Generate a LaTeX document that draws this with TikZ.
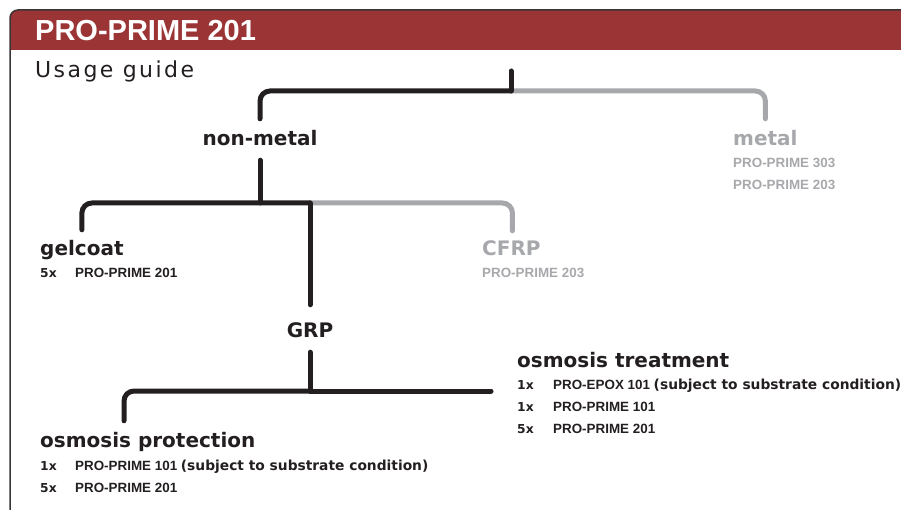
\documentclass[tikz,border=0pt]{standalone}
\usepackage{fontspec}
\setmainfont{DejaVu Sans}
\newfontfamily\prodfont{Liberation Sans}
\definecolor{band}{RGB}{155,52,53}
\definecolor{ink}{RGB}{35,31,32}
\definecolor{pale}{RGB}{167,168,171}
\newcommand\substr{{\rmfamily\fontsize{13.8}{16}\selectfont (subject to substrate condition)}}
\tikzset{
  branch/.style={line width=5pt,line cap=round,rounded corners=10pt,draw=ink},
  offbranch/.style={branch,draw=pale},
  lbl/.style={inner sep=0pt,text height=15pt,text depth=4pt,font=\fontsize{20}{24}\selectfont\bfseries},
  qty/.style={inner sep=0pt,anchor=base west,font=\fontsize{12.3}{15}\selectfont\bfseries},
  prod/.style={inner sep=0pt,anchor=base west,font=\prodfont\fontsize{13.4}{16}\selectfont\bfseries},
}
\begin{document}
\begin{tikzpicture}[x=1pt,y=-1pt]
\useasboundingbox (0,0) rectangle (901,510);
%frame and title band
\begin{scope}
\clip[rounded corners=8pt] (10,530) -- (10,10) -- (930,10) -- (930,530) -- cycle;
\fill[band] (10,10) rectangle (930,50);
\end{scope}
\draw[line width=1.5pt,draw=ink!90,rounded corners=8pt] (10,530) -- (10,10) -- (930,10);
\node[anchor=base west,inner sep=0pt,white,font=\prodfont\fontsize{29}{34}\selectfont\bfseries] (title) at (35,41) {PRO-PRIME 201};
\node[anchor=base west,inner sep=0pt,ink,font=\fontsize{22}{26}\selectfont\addfontfeature{LetterSpace=11}] (guide) at (35,78) {Usage guide};
%labels
\node[lbl,anchor=base,ink] (nonmetal) at (260,146) {non-metal};
\node[lbl,anchor=base west,pale] (metal) at (733,146) {metal};
\node[prod,pale] (metalA) at (733,168) {PRO-PRIME 303};
\node[prod,pale] (metalB) at (733,190) {PRO-PRIME 203};
\node[lbl,anchor=base west,ink] (gelcoat) at (40,256) {gelcoat};
\node[qty,ink] (gelQ) at (40,278) {5x};
\node[prod,ink] (gelP) at (75,278) {PRO-PRIME 201};
\node[lbl,anchor=base west,pale] (cfrp) at (482,256) {CFRP};
\node[prod,pale] (cfrpP) at (482,278) {PRO-PRIME 203};
\node[lbl,anchor=base,ink] (grp) at (310,337) {GRP};
\node[lbl,anchor=base west,ink] (treat) at (517,367) {osmosis treatment};
\node[qty,ink] (treatQa) at (517,389) {1x};
\node[prod,ink] (treatPa) at (553,389) {PRO-EPOX 101 \substr};
\node[qty,ink] (treatQb) at (517,411) {1x};
\node[prod,ink] (treatPb) at (553,411) {PRO-PRIME 101};
\node[qty,ink] (treatQc) at (517,433) {5x};
\node[prod,ink] (treatPc) at (553,433) {PRO-PRIME 201};
\node[lbl,anchor=base west,ink] (protect) at (40,447) {osmosis protection};
\node[qty,ink] (protQa) at (40,470) {1x};
\node[prod,ink] (protPa) at (75,470) {PRO-PRIME 101 \substr};
\node[qty,ink] (protQb) at (40,492) {5x};
\node[prod,ink] (protPb) at (75,492) {PRO-PRIME 201};
%tree
\coordinate (top) at (511,71);
\coordinate (jA) at (511,91);
\coordinate (jB) at (260,203);
\coordinate (jC) at (310,203);
\coordinate (jD) at (310,391);
\draw[offbranch,shorten >=12pt] (jA) -| (metal.north);
\draw[branch,shorten >=12pt] (jA) -| (nonmetal.north);
\draw[branch] (top) -- (jA);
\draw[offbranch,shorten >=10pt] (jC) -| ([xshift=1pt]cfrp.north);
\draw[branch,shorten >=11pt] (jC) -| (gelcoat.north);
\draw[branch,shorten <=10pt] (nonmetal.south) -- (jB);
\draw[branch,shorten >=17pt] (jC) -- (grp.north);
\draw[branch,shorten <=11pt] (grp.south) -- (jD);
\draw[branch,shorten >=26pt] (jD) -- (treat.west |- jD);
\draw[branch,shorten >=11pt] (jD) -| ([xshift=84pt]protect.north west);
\end{tikzpicture}
\end{document}
